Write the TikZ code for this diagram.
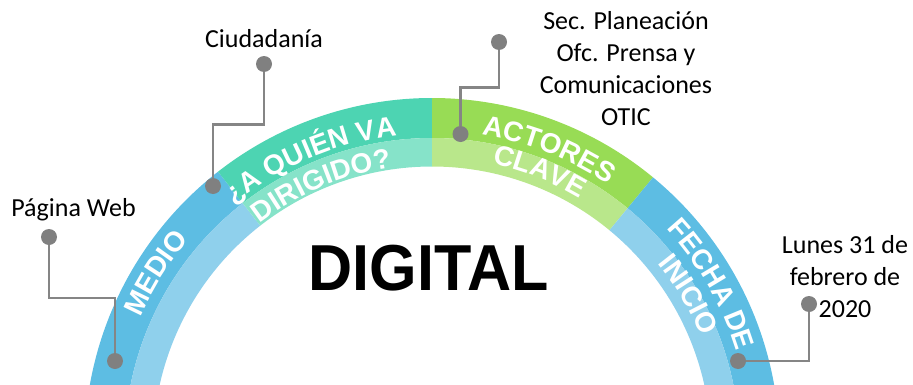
\documentclass[tikz,border=0pt]{standalone}
\usepackage{fontspec}
\usepackage{graphicx}
\setmainfont{Carlito}
\newfontfamily\arialfam{Liberation Sans}
\usetikzlibrary{decorations.text}
\definecolor{blueD}{HTML}{5DBDE3}
\definecolor{blueL}{HTML}{8FD0EC}
\definecolor{tealD}{HTML}{4DD4B2}
\definecolor{tealL}{HTML}{86E3C9}
\definecolor{greenD}{HTML}{98DC55}
\definecolor{greenL}{HTML}{B9E78B}
\definecolor{dotgray}{HTML}{808080}
\definecolor{linegray}{HTML}{858585}
\newcommand\arcfont{\arialfam\bfseries\fontsize{28}{28}\selectfont}
% color, angle from, angle to, inner radius, outer radius
\newcommand\ringsector[5]{\fill[#1] (#2:#5pt) arc[start angle=#2, end angle=#3, radius=#5pt] -- (#3:#4pt) arc[start angle=#3, end angle=#2, radius=#4pt] -- cycle;}
% angle, baseline radius, text
\newcommand\arctext[3]{\path[decorate, decoration={text along path, text align=center, text color=white, text={|\arcfont|#3}}] ({#1+45}:#2pt) arc[start angle={#1+45}, end angle={#1-45}, radius=#2pt];}
\begin{document}
\begin{tikzpicture}[x=1pt,y=1pt,
  dot/.style={circle, fill=dotgray, minimum size=16pt, inner sep=0pt},
  conn/.style={draw=linegray, line width=2.6pt},
  lbl/.style={font=\fontsize{26}{32}\selectfont, align=center, inner sep=0pt, anchor=base}]
\useasboundingbox (0,0) rectangle (913,384);
\begin{scope}
\clip (0,0) rectangle (913,384);
\begin{scope}[shift={(432,-61.5)}]
\ringsector{blueD}{200}{128}{307.5}{347.5}
\ringsector{blueL}{200}{128}{279}{307.5}
\ringsector{tealD}{128}{90}{307.5}{347.5}
\ringsector{tealL}{128}{90}{279}{307.5}
\ringsector{greenD}{90}{50.5}{307.5}{347.5}
\ringsector{greenL}{90}{50.5}{279}{307.5}
\ringsector{blueD}{50.5}{-20}{307.5}{347.5}
\ringsector{blueL}{50.5}{-20}{279}{307.5}
\arctext{148}{318.5}{MEDIO}
\arctext{113}{312}{¿A QUIÉN VA}
\arctext{113}{281}{DIRIGIDO?}
\arctext{68.5}{315}{ACTORES}
\arctext{68.5}{288}{CLAVE}
\arctext{30}{319}{FECHA DE}
\arctext{30.5}{290}{INICIO}
\end{scope}
\end{scope}
% central title
\node[font=\arialfam\bfseries\fontsize{65}{65}\selectfont, anchor=base, inner sep=0pt] (dg) at (428.5,94) {\scalebox{0.94}[1]{DIGITAL}};
% labels (base anchor = baseline of the last line)
\node[lbl] (tp) at (73.5,168) {Página Web};
\node[lbl] (tc) at (264,337) {Ciudadanía};
\node[lbl] (ta) at (626,259) {Sec. Planeación\\Ofc. Prensa y\\Comunicaciones\\OTIC};
\node[lbl] (tf) at (845,67) {Lunes 31 de\\febrero de\\2020};
% connectors
\node[dot] (p1) at (49,147) {};
\node[dot] (p2) at (115,23) {};
\coordinate (k1) at (115,86);
\draw[conn] (p1) |- (k1) -- (p2);
\node[dot] (c1) at (264,320) {};
\node[dot] (c2) at (213,198) {};
\coordinate (k2) at (213,259.7);
\draw[conn] (c1) |- (k2) -- (c2);
\node[dot] (a1) at (499,342) {};
\node[dot] (a2) at (460.5,250) {};
\coordinate (k3) at (460.5,296.3);
\draw[conn] (a1) |- (k3) -- (a2);
\node[dot] (f1) at (738,23) {};
\node[dot] (f2) at (809,80) {};
\draw[conn] (f2) |- (f1);
\end{tikzpicture}
\end{document}
